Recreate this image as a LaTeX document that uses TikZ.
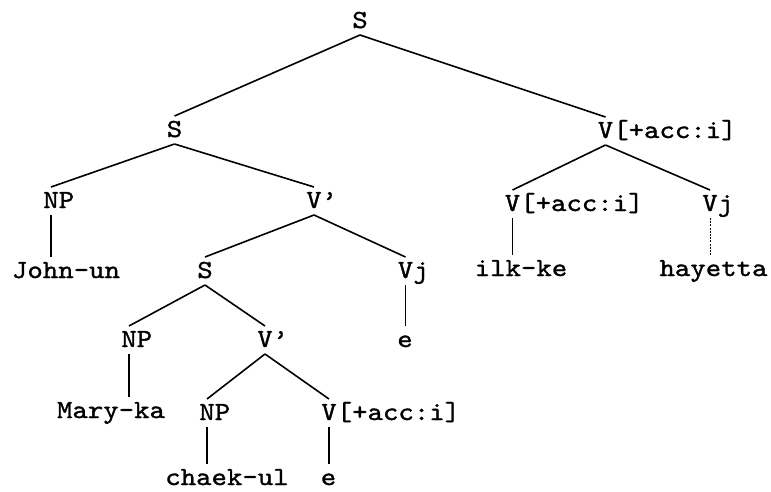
\documentclass[tikz,border=0pt]{standalone}
\usepackage{fontspec}
\usetikzlibrary{calc}
\newfontfamily\treefont{lmmono10-regular.otf}[FakeStretch=1.13,FakeBold=1.2]
\newcommand\hcw{7.7pt}
\newcommand\TreeEdge[3][]{\draw[edge,#1] ($(#2.base west)+(\hcw,-7pt)$) -- ($(#3.north west)+(\hcw,5pt)$);}
\newcommand\LeafEdge[3][]{\draw[edge,#1] ($(#2.base west)+(\hcw,-7pt)$) -- ($(#2.base west |- #3.north)+(\hcw,5pt)$);}
\begin{document}
\begin{tikzpicture}[x=1pt,y=-1pt,
  lbl/.style={inner sep=0pt, outer sep=0pt, font=\treefont\fontsize{26}{30}\selectfont,
    text height=16pt, text depth=0pt, anchor=base west},
  leaf/.style={lbl, anchor=base},
  edge/.style={line width=1.6pt, black},
  faint/.style={line width=0.8pt, dash pattern=on 2pt off 1.2pt}]
\path[use as bounding box] (0,0) rectangle (771,491);
% level 1
\node[lbl] (sTop) at (352.3,28) {S};
% level 2
\node[lbl] (s2) at (166.8,137) {S};
\node[lbl] (vTop) at (597.8,138) {V[+acc:i]};
% level 3
\node[lbl] (np1) at (43.3,208) {NP};
\node[lbl] (vp1) at (306.3,208) {V’};
\node[lbl] (vL) at (504.8,211) {V[+acc:i]};
\node[lbl] (vjR) at (702.3,211) {Vj};
% level 4
\node[leaf] (john) at (66,278) {John-un};
\node[lbl] (s3) at (197.3,278) {S};
\node[lbl] (vjM) at (397.8,278) {Vj};
\node[leaf] (ilk) at (521,276) {ilk-ke};
\node[leaf] (hay) at (713.5,276) {hayetta};
% level 5
\node[lbl] (np2) at (121.3,347) {NP};
\node[lbl] (vp2) at (257.3,347) {V’};
\node[leaf] (e1) at (405,347) {e};
% level 6
\node[leaf] (mary) at (111,418) {Mary-ka};
\node[lbl] (np3) at (199.3,420) {NP};
\node[lbl] (vL2) at (321.3,420) {V[+acc:i]};
% level 7
\node[leaf] (chaek) at (227,485) {chaek-ul};
\node[leaf] (e2) at (328.5,485) {e};
% edges
\TreeEdge{sTop}{s2}
\TreeEdge{sTop}{vTop}
\TreeEdge{s2}{np1}
\TreeEdge{s2}{vp1}
\LeafEdge{np1}{john}
\TreeEdge{vp1}{s3}
\TreeEdge{vp1}{vjM}
\LeafEdge{vjM}{e1}
\TreeEdge{s3}{np2}
\TreeEdge{s3}{vp2}
\LeafEdge{np2}{mary}
\TreeEdge{vp2}{np3}
\TreeEdge{vp2}{vL2}
\LeafEdge{np3}{chaek}
\LeafEdge{vL2}{e2}
\TreeEdge{vTop}{vL}
\TreeEdge{vTop}{vjR}
\LeafEdge{vL}{ilk}
\LeafEdge[faint]{vjR}{hay}
\end{tikzpicture}
\end{document}
